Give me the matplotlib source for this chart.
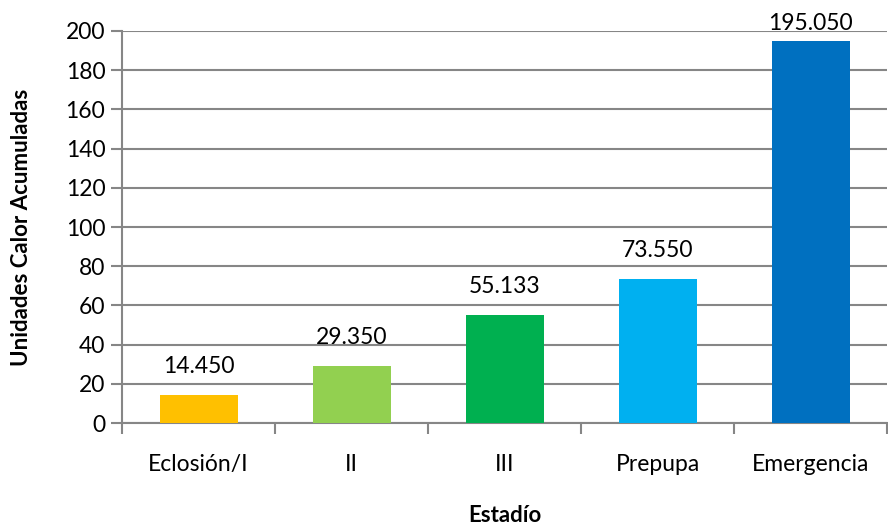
import matplotlib.pyplot as plt

estadios = ['Eclosión/I', 'II', 'III', 'Prepupa', 'Emergencia']
valores = [14.450, 29.350, 55.133, 73.550, 195.050]
etiquetas = ['14.450', '29.350', '55.133', '73.550', '195.050']
colores = ['#FFC000', '#92D050', '#00B050', '#00B0F0', '#0070C0']

plt.rcParams['font.family'] = ['Lato', 'DejaVu Sans']

fig = plt.figure(figsize=(8.88, 5.25), dpi=100)
ax = fig.add_axes([0.1374, 0.194, 0.862, 0.747])

x = range(len(estadios))
ax.bar(x, valores, width=0.51, color=colores, zorder=3)

# etiquetas de valor (la ultima queda pegada al borde superior)
offsets = [13, 13, 13, 13, 5]
for xi, v, lab, off in zip(x, valores, etiquetas, offsets):
    ax.annotate(lab, (xi, v), xytext=(0, off), textcoords='offset points',
                ha='center', va='bottom', fontsize=16.5, color='black',
                annotation_clip=False, zorder=4)

ax.set_ylim(0, 200)
ax.set_xlim(-0.5, len(estadios) - 0.5)
ax.set_yticks(range(0, 201, 20))
ax.yaxis.grid(True, color='#868686', linewidth=1.5, zorder=0)

ax.set_xticks([i - 0.5 for i in range(len(estadios) + 1)])
ax.set_xticklabels([])
ax.set_xticks(list(x), minor=True)
ax.set_xticklabels(estadios, minor=True)
ax.tick_params(axis='x', which='minor', length=0, pad=22, labelsize=16.5)
ax.tick_params(axis='x', which='major', length=8, width=1.5, color='#868686', direction='out')
ax.tick_params(axis='y', length=8, width=1.5, color='#868686', labelsize=16.5, pad=4)

for s in ['top', 'right']:
    ax.spines[s].set_visible(False)
for s in ['left', 'bottom']:
    ax.spines[s].set_color('#868686')
    ax.spines[s].set_linewidth(1.5)

ax.set_xlabel('Estadío', fontsize=16, fontweight='bold')
ax.set_ylabel('Unidades Calor Acumuladas', fontsize=16, fontweight='bold')
ax.xaxis.set_label_coords(0.5, -0.235)
ax.yaxis.set_label_coords(-0.131, 0.5)
ax.xaxis.label.set_va('center')
ax.yaxis.label.set_va('center')

plt.savefig('out.png', dpi=100)
